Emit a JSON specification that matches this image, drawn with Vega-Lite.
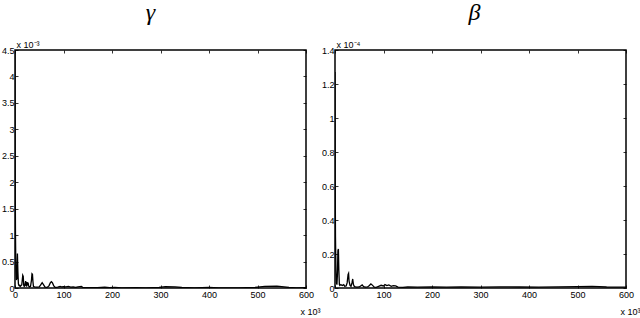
{
  "$schema": "https://vega.github.io/schema/vega-lite/v6.json",
  "padding": {"left": 0, "top": 0, "right": 0, "bottom": 0},
  "background": "white",
  "spacing": 29,
  "bounds": "flush",
  "config": {
    "view": {"stroke": "#000", "strokeWidth": 1.5},
    "axis": {"domain": false, "grid": false, "tickColor": "#000", "tickSize": -3, "tickWidth": 0.8,
      "labelFont": "Liberation Sans", "labelFontSize": 9, "labelColor": "#000", "labelFlush": false, "labelOverlap": false,
      "titleFont": "Liberation Sans", "titleFontSize": 9, "titleFontWeight": "normal", "titleColor": "#000"}
  },
  "datasets": {
    "gamma": [
      {"iter": 0, "value": 4.6}, {"iter": 0.5, "value": 2.0}, {"iter": 1, "value": 1.0}, {"iter": 1.5, "value": 0.6},
      {"iter": 2, "value": 0.3}, {"iter": 3, "value": 0.15}, {"iter": 4, "value": 0.2}, {"iter": 5, "value": 0.65},
      {"iter": 6, "value": 0.3}, {"iter": 7, "value": 0.08}, {"iter": 8, "value": 0.05}, {"iter": 9, "value": 0.04},
      {"iter": 10, "value": 0.05}, {"iter": 11, "value": 0.03}, {"iter": 12, "value": 0.04}, {"iter": 14, "value": 0.06},
      {"iter": 16, "value": 0.24}, {"iter": 17, "value": 0.22}, {"iter": 18, "value": 0.05}, {"iter": 19, "value": 0.03},
      {"iter": 20, "value": 0.04}, {"iter": 22, "value": 0.13}, {"iter": 23, "value": 0.05}, {"iter": 24, "value": 0.04},
      {"iter": 25, "value": 0.11}, {"iter": 26, "value": 0.05}, {"iter": 27, "value": 0.1}, {"iter": 28, "value": 0.04},
      {"iter": 30, "value": 0.02}, {"iter": 32, "value": 0.03}, {"iter": 34, "value": 0.15}, {"iter": 35, "value": 0.27},
      {"iter": 36, "value": 0.26}, {"iter": 37, "value": 0.12}, {"iter": 38, "value": 0.03}, {"iter": 40, "value": 0.02},
      {"iter": 45, "value": 0.015}, {"iter": 50, "value": 0.02}, {"iter": 53, "value": 0.06}, {"iter": 56, "value": 0.1},
      {"iter": 59, "value": 0.06}, {"iter": 62, "value": 0.015}, {"iter": 66, "value": 0.01}, {"iter": 70, "value": 0.04},
      {"iter": 73, "value": 0.1}, {"iter": 75, "value": 0.12}, {"iter": 77, "value": 0.1}, {"iter": 80, "value": 0.04},
      {"iter": 83, "value": 0.01}, {"iter": 88, "value": 0.015}, {"iter": 93, "value": 0.03}, {"iter": 96, "value": 0.02},
      {"iter": 100, "value": 0.025}, {"iter": 105, "value": 0.02}, {"iter": 110, "value": 0.03}, {"iter": 115, "value": 0.015},
      {"iter": 120, "value": 0.02}, {"iter": 125, "value": 0.01}, {"iter": 130, "value": 0.02}, {"iter": 137, "value": 0.03},
      {"iter": 140, "value": 0.01}, {"iter": 150, "value": 0.005}, {"iter": 170, "value": 0.005}, {"iter": 185, "value": 0.015},
      {"iter": 195, "value": 0.005}, {"iter": 206, "value": 0.012}, {"iter": 220, "value": 0.004}, {"iter": 250, "value": 0.008},
      {"iter": 270, "value": 0.004}, {"iter": 297, "value": 0.01}, {"iter": 310, "value": 0.025}, {"iter": 330, "value": 0.02},
      {"iter": 344, "value": 0.01}, {"iter": 370, "value": 0.004}, {"iter": 400, "value": 0.012}, {"iter": 420, "value": 0.004},
      {"iter": 460, "value": 0.003}, {"iter": 495, "value": 0.01}, {"iter": 515, "value": 0.03}, {"iter": 540, "value": 0.035},
      {"iter": 565, "value": 0.01}, {"iter": 580, "value": 0.004}, {"iter": 600, "value": 0.005}
    ],
    "beta": [
      {"iter": 0, "value": 1.27}, {"iter": 0.5, "value": 0.6}, {"iter": 1, "value": 0.3}, {"iter": 2, "value": 0.1},
      {"iter": 3, "value": 0.03}, {"iter": 4, "value": 0.02}, {"iter": 5, "value": 0.08}, {"iter": 6, "value": 0.22},
      {"iter": 7, "value": 0.23}, {"iter": 8, "value": 0.1}, {"iter": 9, "value": 0.02}, {"iter": 10, "value": 0.015},
      {"iter": 12, "value": 0.02}, {"iter": 15, "value": 0.015}, {"iter": 18, "value": 0.02}, {"iter": 20, "value": 0.01},
      {"iter": 23, "value": 0.012}, {"iter": 25, "value": 0.03}, {"iter": 27, "value": 0.08}, {"iter": 28, "value": 0.086},
      {"iter": 29, "value": 0.04}, {"iter": 31, "value": 0.015}, {"iter": 33, "value": 0.01}, {"iter": 35, "value": 0.03},
      {"iter": 36.5, "value": 0.053}, {"iter": 38, "value": 0.02}, {"iter": 40, "value": 0.008}, {"iter": 45, "value": 0.005},
      {"iter": 50, "value": 0.006}, {"iter": 53, "value": 0.012}, {"iter": 56, "value": 0.018}, {"iter": 59, "value": 0.008},
      {"iter": 63, "value": 0.005}, {"iter": 67, "value": 0.006}, {"iter": 71, "value": 0.015}, {"iter": 74, "value": 0.024},
      {"iter": 77, "value": 0.017}, {"iter": 81, "value": 0.005}, {"iter": 85, "value": 0.004}, {"iter": 90, "value": 0.01},
      {"iter": 95, "value": 0.016}, {"iter": 100, "value": 0.012}, {"iter": 103, "value": 0.02}, {"iter": 107, "value": 0.014},
      {"iter": 111, "value": 0.018}, {"iter": 116, "value": 0.01}, {"iter": 120, "value": 0.014}, {"iter": 125, "value": 0.012},
      {"iter": 130, "value": 0.005}, {"iter": 140, "value": 0.004}, {"iter": 150, "value": 0.006}, {"iter": 170, "value": 0.005},
      {"iter": 200, "value": 0.007}, {"iter": 230, "value": 0.005}, {"iter": 260, "value": 0.006}, {"iter": 300, "value": 0.005},
      {"iter": 340, "value": 0.007}, {"iter": 380, "value": 0.006}, {"iter": 420, "value": 0.005}, {"iter": 460, "value": 0.007},
      {"iter": 500, "value": 0.008}, {"iter": 530, "value": 0.01}, {"iter": 560, "value": 0.006}, {"iter": 600, "value": 0.005}
    ]
  },
  "hconcat": [
    {
      "width": 291, "height": 238,
      "title": {"text": "γ", "font": "Liberation Serif", "fontStyle": "italic", "fontWeight": "normal", "fontSize": 24, "color": "#000", "frame": "group", "anchor": "middle", "baseline": "alphabetic", "offset": -4, "dx": -10},
      "data": {"name": "gamma"},
      "layer": [
        {
          "mark": {"type": "line", "color": "#000", "strokeWidth": 1.3, "clip": true},
          "encoding": {
            "x": {"field": "iter", "type": "quantitative", "scale": {"domain": [0, 600], "nice": false, "zero": false},
              "axis": {"orient": "bottom", "values": [0, 100, 200, 300, 400, 500, 600], "format": "d", "labelPadding": 5,
                "title": "x 10³", "titleAngle": 0, "titleX": 285, "titleY": 26, "titleAlign": "left", "titleBaseline": "alphabetic"}},
            "y": {"field": "value", "type": "quantitative", "scale": {"domain": [0, 4.5], "nice": false},
              "axis": {"orient": "left", "values": [0, 0.5, 1, 1.5, 2, 2.5, 3, 3.5, 4, 4.5], "format": "~r", "labelPadding": 4,
                "title": "x 10⁻³", "titleAngle": 0, "titleX": 1, "titleY": -3, "titleAlign": "left", "titleBaseline": "alphabetic"}}
          }
        },
        {
          "mark": {"type": "line", "opacity": 0},
          "encoding": {
            "x": {"field": "iter", "type": "quantitative", "axis": {"orient": "top", "values": [0, 100, 200, 300, 400, 500, 600], "labels": false, "title": null}},
            "y": {"field": "value", "type": "quantitative", "axis": {"orient": "right", "values": [0, 0.5, 1, 1.5, 2, 2.5, 3, 3.5, 4, 4.5], "labels": false, "title": null}}
          }
        }
      ],
      "resolve": {"axis": {"x": "independent", "y": "independent"}}
    },
    {
      "width": 291, "height": 238,
      "title": {"text": "β", "font": "Liberation Serif", "fontStyle": "italic", "fontWeight": "normal", "fontSize": 24, "color": "#000", "frame": "group", "anchor": "middle", "baseline": "alphabetic", "offset": -4, "dx": -6},
      "data": {"name": "beta"},
      "layer": [
        {
          "mark": {"type": "line", "color": "#000", "strokeWidth": 1.3, "clip": true},
          "encoding": {
            "x": {"field": "iter", "type": "quantitative", "scale": {"domain": [0, 600], "nice": false, "zero": false},
              "axis": {"orient": "bottom", "values": [0, 100, 200, 300, 400, 500, 600], "format": "d", "labelPadding": 5,
                "title": "x 10³", "titleAngle": 0, "titleX": 285, "titleY": 26, "titleAlign": "left", "titleBaseline": "alphabetic"}},
            "y": {"field": "value", "type": "quantitative", "scale": {"domain": [0, 1.4], "nice": false},
              "axis": {"orient": "left", "values": [0, 0.2, 0.4, 0.6, 0.8, 1, 1.2, 1.4], "format": "~r", "labelPadding": 4,
                "title": "x 10⁻⁴", "titleAngle": 0, "titleX": 1, "titleY": -3, "titleAlign": "left", "titleBaseline": "alphabetic"}}
          }
        },
        {
          "mark": {"type": "line", "opacity": 0},
          "encoding": {
            "x": {"field": "iter", "type": "quantitative", "axis": {"orient": "top", "values": [0, 100, 200, 300, 400, 500, 600], "labels": false, "title": null}},
            "y": {"field": "value", "type": "quantitative", "axis": {"orient": "right", "values": [0, 0.2, 0.4, 0.6, 0.8, 1, 1.2, 1.4], "labels": false, "title": null}}
          }
        }
      ],
      "resolve": {"axis": {"x": "independent", "y": "independent"}}
    }
  ]
}
